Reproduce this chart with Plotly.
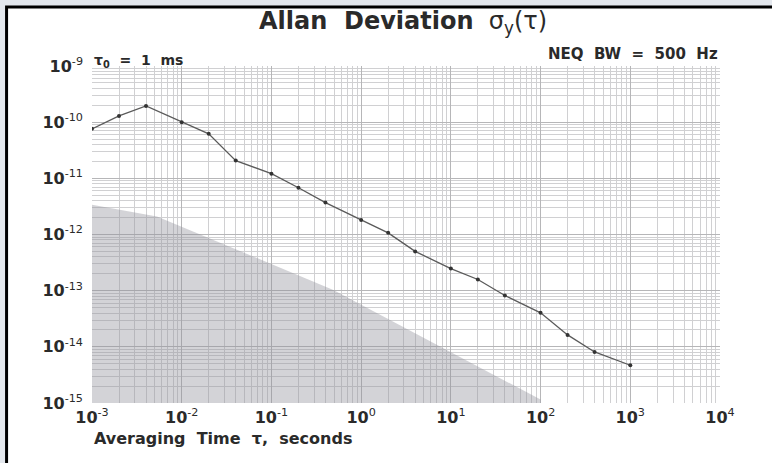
import plotly.graph_objects as go

# Data
tau = [1e-3, 2e-3, 4e-3, 1e-2, 2e-2, 4e-2, 1e-1, 2e-1, 4e-1, 1, 2, 4,
       10, 20, 40, 100, 200, 400, 1000]
adev = [7.6e-11, 1.29e-10, 1.95e-10, 1.0e-10, 6.2e-11, 2.07e-11, 1.21e-11,
        6.8e-12, 3.7e-12, 1.82e-12, 1.07e-12, 5.0e-13, 2.47e-13, 1.58e-13,
        8.2e-14, 4.03e-14, 1.63e-14, 8.1e-15, 4.7e-15]

floor_tau = [1e-3, 5.3e-3, 0.49, 100, 100, 1e-3]
floor_val = [3.4e-12, 2.1e-12, 1.03e-13, 1.15e-15, 1e-15, 1e-15]

x_exps = [-3, -2, -1, 0, 1, 2, 3, 4]
y_exps = [-9, -10, -11, -12, -13, -14, -15]

FONT = "DejaVu Sans, Liberation Sans, Arial, sans-serif"
INK = "#2a2a2a"
SP = "&nbsp; "

fig = go.Figure()

fig.add_trace(go.Scatter(
    x=floor_tau, y=floor_val, mode="lines", fill="toself",
    fillcolor="rgba(145,145,155,0.40)", line=dict(width=0),
    hoverinfo="skip", showlegend=False))

fig.add_trace(go.Scatter(
    x=tau, y=adev, mode="lines+markers",
    line=dict(color="#5a5a5a", width=1.3),
    marker=dict(color="#333333", size=4, symbol="circle"),
    showlegend=False))

minor_x = [m * 10.0 ** e for e in x_exps[:-1] for m in range(2, 10)]
minor_y = [m * 10.0 ** e for e in range(-15, -9) for m in range(2, 10)]

fig.update_xaxes(
    type="log", range=[-3, 4],
    tickvals=[10.0 ** e for e in x_exps],
    ticktext=[f"<b>10</b><sup>{e}</sup>" for e in x_exps],
    tickfont=dict(family=FONT, size=16, color=INK),
    showgrid=True, gridcolor="#b6b6b8", gridwidth=1,
    minor=dict(tickvals=minor_x, showgrid=True, gridcolor="#d0d0d2",
               gridwidth=1, ticks=""),
    showline=False, zeroline=False, ticks="", ticklabelstandoff=3,
)
fig.update_yaxes(
    type="log", range=[-15, -9],
    tickvals=[10.0 ** e for e in y_exps],
    ticktext=[f"<b>10</b><sup>{e}</sup>" for e in y_exps],
    tickfont=dict(family=FONT, size=16, color=INK),
    showgrid=True, gridcolor="#b6b6b8", gridwidth=1,
    minor=dict(tickvals=minor_y, showgrid=True, gridcolor="#d0d0d2",
               gridwidth=1, ticks=""),
    showline=False, zeroline=False, ticks="", ticklabelstandoff=8,
)

L, R, T, B = 91.5, 52, 66, 60
W, H = 772, 463
pw, ph = W - L - R, H - T - B

def px2paper_x(px):
    return (px - L) / pw

def px2paper_y(py):
    return (H - B - py) / ph

# page frame
fig.add_shape(type="rect", xref="paper", yref="paper",
              x0=px2paper_x(6), x1=px2paper_x(800),
              y0=px2paper_y(490), y1=px2paper_y(7),
              line=dict(color="black", width=3), fillcolor="white",
              layer="below")

fig.add_annotation(xref="paper", yref="paper", x=px2paper_x(257), y=px2paper_y(23),
                   text="<b>Allan" + SP + "Deviation</b>" + SP + "σ<sub>y</sub>(τ)",
                   showarrow=False, xanchor="left", yanchor="middle",
                   font=dict(family=FONT, size=24, color=INK))
fig.add_annotation(xref="paper", yref="paper", x=0, y=px2paper_y(61),
                   text="<b>τ<sub>0</sub>" + SP + "=" + SP + "1" + SP + "ms</b>",
                   showarrow=False, xanchor="left", yanchor="middle",
                   font=dict(family=FONT, size=14, color=INK))
fig.add_annotation(xref="paper", yref="paper", x=1, y=px2paper_y(54),
                   text="<b>NEQ" + SP + "BW" + SP + "=" + SP + "500" + SP + "Hz</b>",
                   showarrow=False, xanchor="right", yanchor="middle",
                   font=dict(family=FONT, size=15, color=INK))
fig.add_annotation(xref="paper", yref="paper", x=0, y=px2paper_y(438),
                   text="<b>Averaging" + SP + "Time" + SP + "τ," + SP + "seconds</b>",
                   showarrow=False, xanchor="left", yanchor="middle",
                   font=dict(family=FONT, size=16, color=INK))

fig.update_layout(
    width=W, height=H,
    margin=dict(l=L, r=R, t=T, b=B, pad=0),
    paper_bgcolor="#e4e8ee", plot_bgcolor="rgba(0,0,0,0)",
    showlegend=False,
)

fig.write_html("out.html")
